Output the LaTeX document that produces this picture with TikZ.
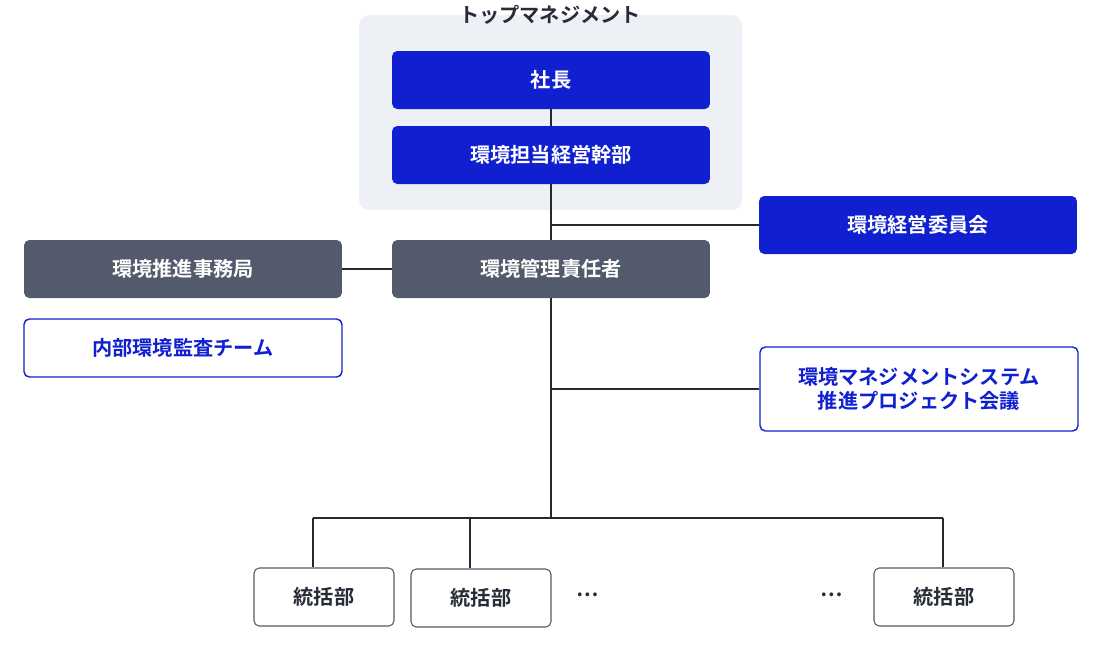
\documentclass[tikz,border=0pt]{standalone}
\usepackage{fontspec}
\setmainfont{Noto Sans CJK JP}
\newfontfamily\jpbold{Noto Sans CJK JP Bold}
\usetikzlibrary{positioning,calc}
\definecolor{bluebox}{RGB}{16,32,208}
\definecolor{graybox}{RGB}{82,90,107}
\definecolor{bgpanel}{RGB}{237,240,245}
\definecolor{linecol}{RGB}{40,40,48}
\definecolor{textdark}{RGB}{40,44,56}

\tikzset{
    box/.style={rounded corners=3pt, minimum width=6.36cm, minimum height=1.16cm,
        align=center, font=\jpbold\fontsize{11.5}{14}\selectfont, inner sep=0pt},
    blue box/.style={box, fill=bluebox, text=white},
    gray box/.style={box, fill=graybox, text=white},
    outline box/.style={box, fill=white, draw=bluebox, text=bluebox, line width=0.8pt},
    unit box/.style={box, fill=white, draw=graybox, text=textdark, line width=0.6pt,
        minimum width=2.8cm},
    link/.style={linecol, line width=0.8pt}
}

\begin{document}
\begin{tikzpicture}[x=0.02cm, y=-0.02cm]
    \useasboundingbox (0,0) rectangle (1106,647);

    % Top management panel
    \fill[bgpanel, rounded corners=6pt] (359,15) rectangle (742,210);
    \node[font=\jpbold\fontsize{11.5}{14}\selectfont, text=textdark] (top) at (550,15) {トップマネジメント};

    % Main nodes
    \node[blue box] (shacho) at (551,80) {社長};
    \node[blue box] (kanbu) at (551,155) {環境担当経営幹部};
    \node[blue box] (iinkai) at (918,225) {環境経営委員会};
    \node[gray box] (sekinin) at (551,269) {環境管理責任者};
    \node[gray box] (jimukyoku) at (183,269) {環境推進事務局};
    \node[outline box] (kansa) at (183,348) {内部環境監査チーム};
    \node[outline box, minimum height=1.68cm] (kaigi) at (919,389)
        {環境マネジメントシステム\\推進プロジェクト会議};

    % Departments
    \node[unit box] (bu1) at (324,597) {統括部};
    \node[unit box] (bu2) at (481,598) {統括部};
    \node[unit box] (bu3) at (944,597) {統括部};
    \node[font=\jpbold\fontsize{11.5}{14}\selectfont, text=textdark] (dots1) at (588,595) {…};
    \node[font=\jpbold\fontsize{11.5}{14}\selectfont, text=textdark] (dots2) at (832,595) {…};

    % Connectors
    \coordinate (bus) at (551,518);
    \coordinate (busL) at (313,518);
    \coordinate (busM) at (470,518);
    \coordinate (busR) at (943,518);
    \draw[link] (shacho.south) -- (kanbu.north);
    \draw[link] (kanbu.south) -- (sekinin.north);
    \draw[link] (kanbu.south |- iinkai.west) -- (iinkai.west);
    \draw[link] (jimukyoku.east) -- (sekinin.west);
    \draw[link] (sekinin.south) -- (bus);
    \draw[link] (sekinin.south |- kaigi.west) -- (kaigi.west);
    \draw[link] (busL) -- (busR);
    \draw[link] (busL) -- (busL |- bu1.north);
    \draw[link] (busM) -- (busM |- bu2.north);
    \draw[link] (busR) -- (busR |- bu3.north);
\end{tikzpicture}
\end{document}
